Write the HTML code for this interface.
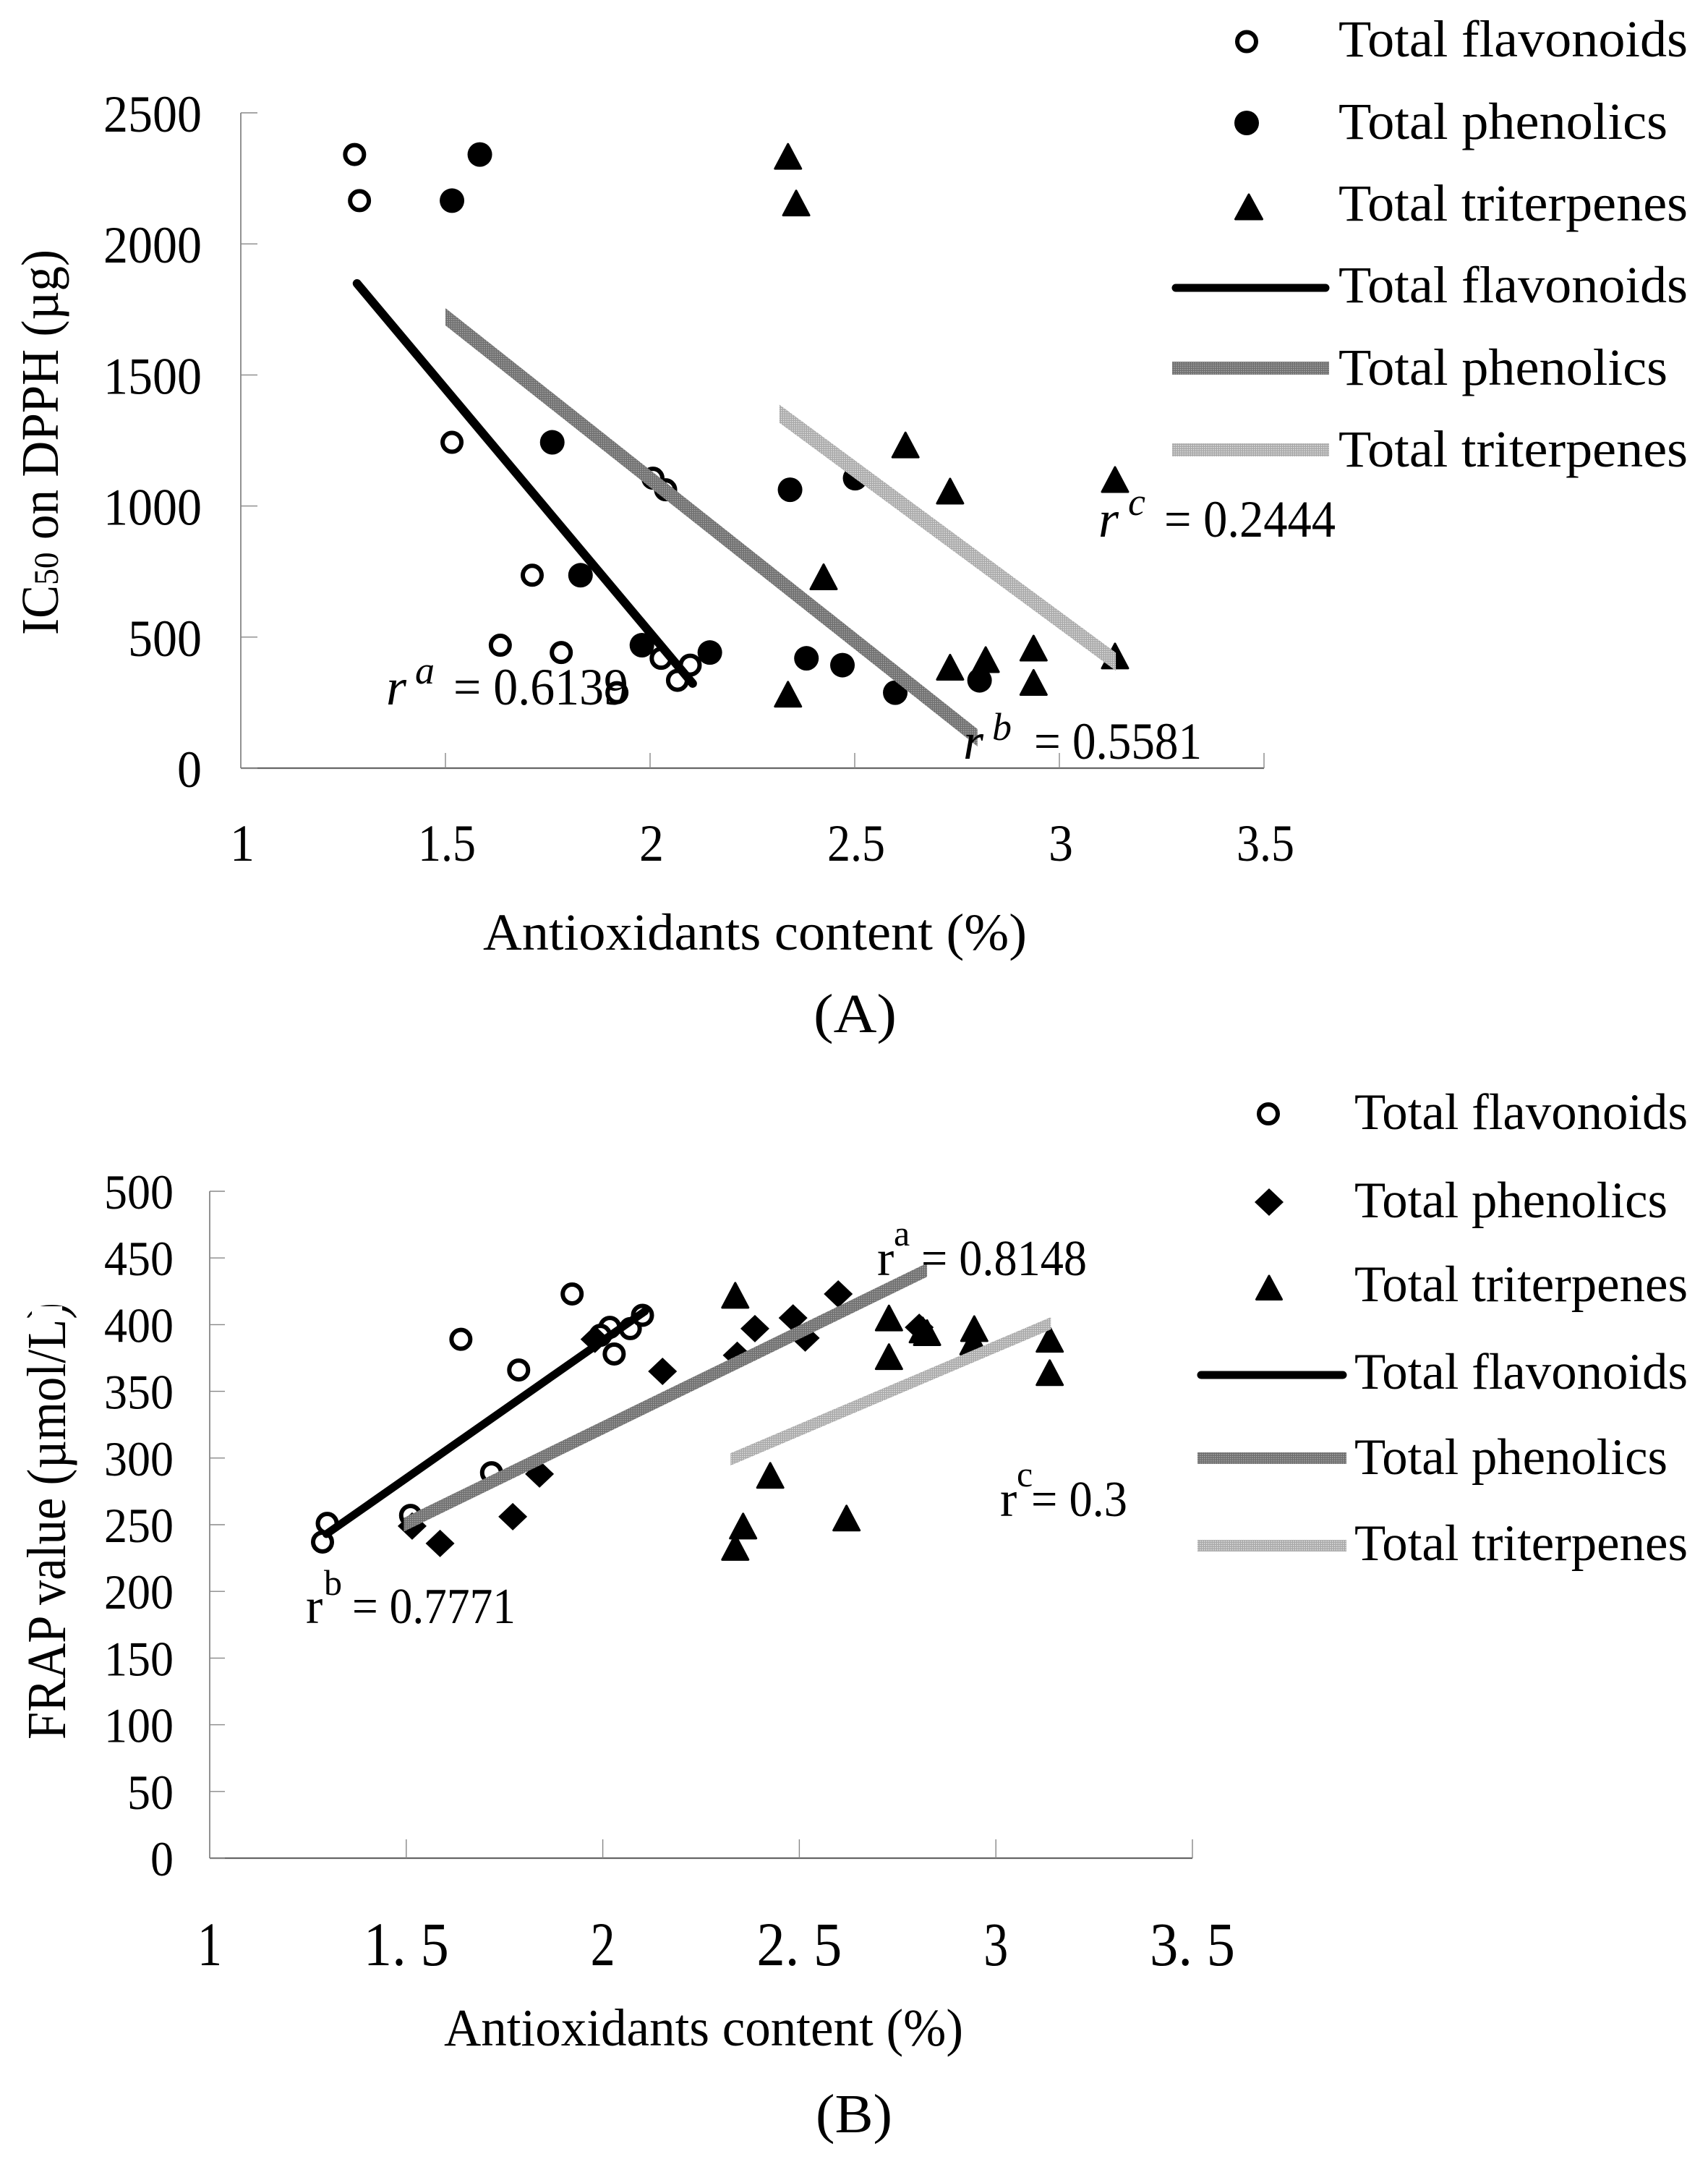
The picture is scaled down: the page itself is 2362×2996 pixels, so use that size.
<!DOCTYPE html>
<html lang="en">
<head>
<meta charset="utf-8">
<title>Antioxidant content correlations</title>
<style>
html,body{margin:0;padding:0;background:#fff;}
svg{display:block;}
text{font-family:"Liberation Serif",serif;fill:#000;}
</style>
</head>
<body>
<svg id="figure" xmlns="http://www.w3.org/2000/svg" width="2362" height="2996" viewBox="0 0 2362 2996">
<defs>
<pattern id="hatch-dark" patternUnits="userSpaceOnUse" width="3" height="3"><rect width="3" height="3" fill="#6f6f6f"/><rect width="1.5" height="1.5" fill="#a8a8a8"/></pattern>
<pattern id="hatch-light" patternUnits="userSpaceOnUse" width="3" height="3"><rect width="3" height="3" fill="#a9a9a9"/><rect width="1.5" height="1.5" fill="#e2e2e2"/></pattern>
</defs>
<rect width="2362" height="2996" fill="#fff"/>

<g id="panel-a">
<g id="a-axes"></g>
<g id="a-points"></g>
<g id="a-trends"></g>
<text transform="translate(80 878) rotate(-90)" font-size="73" textLength="533" lengthAdjust="spacingAndGlyphs">IC<tspan font-size="48">50</tspan> on DPPH (µg)</text>
<text x="668" y="1313" font-size="72" textLength="752" lengthAdjust="spacingAndGlyphs">Antioxidants content (%)</text>
<text x="1125" y="1427" font-size="76" textLength="115" lengthAdjust="spacingAndGlyphs">(A)</text>
<g>
<text x="534" y="974" font-size="72" font-style="italic">r</text>
<text x="574" y="945" font-size="54" font-style="italic">a</text>
<text x="627" y="974" font-size="72" textLength="242" lengthAdjust="spacingAndGlyphs">= 0.6139</text>
</g>
<g>
<text x="1332" y="1049" font-size="72" font-style="italic">r</text>
<text x="1372" y="1023" font-size="54" font-style="italic">b</text>
<text x="1430" y="1049" font-size="72" textLength="232" lengthAdjust="spacingAndGlyphs">= 0.5581</text>
</g>
<g>
<text x="1519" y="742" font-size="72" font-style="italic">r</text>
<text x="1560" y="712" font-size="54" font-style="italic">c</text>
<text x="1610" y="742" font-size="72" textLength="237" lengthAdjust="spacingAndGlyphs">= 0.2444</text>
</g>
<g>
<circle cx="1724" cy="57.5" r="13" fill="#fff" stroke="#000" stroke-width="6"/>
<circle cx="1724" cy="170" r="17" fill="#000"/>
<path d="M1727 269 L1708.500 303 L1745.500 303 Z" fill="#000" stroke="#000" stroke-width="3" stroke-linejoin="round"/>
<line x1="1626" y1="398" x2="1833" y2="398" stroke="#000" stroke-width="11" stroke-linecap="round"/>
<line x1="1621" y1="509" x2="1838" y2="509" stroke="url(#hatch-dark)" stroke-width="18"/>
<line x1="1621" y1="622" x2="1838" y2="622" stroke="url(#hatch-light)" stroke-width="18"/>
<text x="1851" y="78" font-size="72" textLength="483" lengthAdjust="spacingAndGlyphs">Total flavonoids</text>
<text x="1851" y="192" font-size="72" textLength="455" lengthAdjust="spacingAndGlyphs">Total phenolics</text>
<text x="1851" y="305" font-size="72" textLength="483" lengthAdjust="spacingAndGlyphs">Total triterpenes</text>
<text x="1851" y="418" font-size="72" textLength="483" lengthAdjust="spacingAndGlyphs">Total flavonoids</text>
<text x="1851" y="532" font-size="72" textLength="455" lengthAdjust="spacingAndGlyphs">Total phenolics</text>
<text x="1851" y="645" font-size="72" textLength="483" lengthAdjust="spacingAndGlyphs">Total triterpenes</text>
</g>
</g>

<g id="panel-b">
<g id="b-axes"></g>
<g id="b-points"></g>
<g id="b-trends"></g>
<text transform="translate(90 2405) rotate(-90)" font-size="76" textLength="604" lengthAdjust="spacingAndGlyphs">FRAP value (µmol/L)</text>
<rect x="44" y="1806" width="42" height="12" fill="#fff"/>
<text x="614" y="2828" font-size="73" textLength="718" lengthAdjust="spacingAndGlyphs">Antioxidants content (%)</text>
<text x="1128" y="2948" font-size="76" textLength="106" lengthAdjust="spacingAndGlyphs">(B)</text>
<g>
<text x="423" y="2244" font-size="70">r</text>
<text x="448" y="2205" font-size="50">b</text>
<text x="487" y="2244" font-size="70" textLength="226" lengthAdjust="spacingAndGlyphs">= 0.7771</text>
</g>
<g>
<text x="1213" y="1763" font-size="70">r</text>
<text x="1236" y="1722" font-size="50">a</text>
<text x="1274" y="1763" font-size="70" textLength="229" lengthAdjust="spacingAndGlyphs">= 0.8148</text>
</g>
<g>
<text x="1383" y="2096" font-size="70">r</text>
<text x="1406" y="2055" font-size="50">c</text>
<text x="1426" y="2096" font-size="70" textLength="133" lengthAdjust="spacingAndGlyphs">= 0.3</text>
</g>
<g>
<circle cx="1754" cy="1540" r="13" fill="#fff" stroke="#000" stroke-width="6"/>
<path d="M1755 1643 L1775 1662 L1755 1681 L1735 1662 Z" fill="#000"/>
<path d="M1755 1764 L1737.500 1796.500 L1772.500 1796.500 Z" fill="#000" stroke="#000" stroke-width="3" stroke-linejoin="round"/>
<line x1="1661" y1="1901" x2="1857" y2="1901" stroke="#000" stroke-width="11" stroke-linecap="round"/>
<line x1="1656" y1="2016" x2="1862" y2="2016" stroke="url(#hatch-dark)" stroke-width="16"/>
<line x1="1656" y1="2137" x2="1862" y2="2137" stroke="url(#hatch-light)" stroke-width="16"/>
<text x="1873" y="1561" font-size="71" textLength="461" lengthAdjust="spacingAndGlyphs">Total flavonoids</text>
<text x="1873" y="1683" font-size="71" textLength="433" lengthAdjust="spacingAndGlyphs">Total phenolics</text>
<text x="1873" y="1799" font-size="71" textLength="461" lengthAdjust="spacingAndGlyphs">Total triterpenes</text>
<text x="1873" y="1920" font-size="71" textLength="461" lengthAdjust="spacingAndGlyphs">Total flavonoids</text>
<text x="1873" y="2038" font-size="71" textLength="433" lengthAdjust="spacingAndGlyphs">Total phenolics</text>
<text x="1873" y="2157" font-size="71" textLength="461" lengthAdjust="spacingAndGlyphs">Total triterpenes</text>
</g>
</g>
</svg>

<script>
// Panel A: IC50 on DPPH
const aXTicks = [1, 1.5, 2, 2.5, 3, 3.5];
const aXTickLabels = ['1', '1.5', '2', '2.5', '3', '3.5'];
const aYTicks = [0, 500, 1000, 1500, 2000, 2500];
const aYTickLabels = ['0', '500', '1000', '1500', '2000', '2500'];
const aFlavonoidsX = [1.278, 1.290, 1.516, 1.712, 1.634, 1.783, 2.007, 2.038, 2.027, 2.098, 2.067, 1.919];
const aFlavonoidsY = [2341, 2165, 1243, 736, 469, 441, 1106, 1062, 419, 393, 335, 288];
const aPhenolicsX = [1.584, 1.516, 1.761, 1.830, 1.980, 2.146, 2.501, 2.342, 2.382, 2.470, 2.805, 2.599];
const aPhenolicsY = [2341, 2165, 1243, 736, 469, 441, 1106, 1062, 419, 393, 335, 288];
const aTriterpenesX = [2.337, 2.357, 2.624, 2.733, 3.136, 2.424, 2.937, 2.820, 2.733, 3.136, 2.937, 2.337];
const aTriterpenesY = [2334, 2156, 1233, 1057, 1101, 730, 458, 414, 385, 428, 327, 282];
const aTrendFlavonoidsX = [1.284, 2.104];
const aTrendFlavonoidsY = [1849, 323];
const aTrendPhenolicsX = [1.5, 2.80];
const aTrendPhenolicsY = [1722, 116];
const aTrendTriterpenesX = [2.316, 3.138];
const aTrendTriterpenesY = [1352, 406];

// Panel B: FRAP value
const bXTicks = [1, 1.5, 2, 2.5, 3, 3.5];
const bXTickLabels = ['1', '1. 5', '2', '2. 5', '3', '3. 5'];
const bYTicks = [0, 50, 100, 150, 200, 250, 300, 350, 400, 450, 500];
const bYTickLabels = ['0', '50', '100', '150', '200', '250', '300', '350', '400', '450', '500'];
const bFlavonoidsX = [1.299, 1.287, 1.511, 1.717, 1.639, 1.786, 1.922, 2.018, 2.029, 2.070, 2.101, 1.994];
const bFlavonoidsY = [251, 237, 257, 289, 389, 366, 423, 398, 378, 397, 407, 392];
const bPhenolicsX = [1.515, 1.586, 1.771, 1.839, 1.980, 2.152, 2.342, 2.387, 2.484, 2.515, 2.599, 2.805];
const bPhenolicsY = [249, 236, 256, 288, 389, 365, 377, 397, 405, 390, 423, 398];
const bTriterpenesX = [2.337, 2.337, 2.357, 2.426, 2.620, 2.728, 2.728, 2.814, 2.825, 2.945, 2.943, 3.137, 3.137];
const bTriterpenesY = [422, 233, 249, 287, 255, 405, 376, 396, 394, 397, 387, 389, 364];
const bTrendFlavonoidsX = [1.297, 2.107];
const bTrendFlavonoidsY = [243, 410];
const bTrendPhenolicsX = [1.494, 2.825];
const bTrendPhenolicsY = [250, 441];
const bTrendTriterpenesX = [2.325, 3.140];
const bTrendTriterpenesY = [299, 401];

const SVGNS = 'http://www.w3.org/2000/svg';

function axAX(v) { return 333 + (v - 1) * 566; }
function axAY(v) { return 1062 - v * 0.3624; }
function axBX(v) { return 290 + (v - 1) * 543.6; }
function axBY(v) { return 2569 - v * 1.844; }

function make(tag, parent, attrs) {
  const el = document.createElementNS(SVGNS, tag);
  for (const k in attrs) el.setAttribute(k, attrs[k]);
  parent.appendChild(el);
  return el;
}

function drawAxes(group, fx, fy, xTicks, xLabels, yTicks, yLabels, o) {
  const x0 = fx(xTicks[0]), x1 = fx(xTicks[xTicks.length - 1]);
  const y0 = fy(yTicks[0]), y1 = fy(yTicks[yTicks.length - 1]);
  const yAxis = make('line', group, {x1: x0, y1: y0, x2: x0, y2: y1, stroke: '#777', 'stroke-width': 1.6});
  
  
  const xAxis = make('line', group, {x1: x0, y1: y0, x2: x1, y2: y0, stroke: '#666', 'stroke-width': 2.2});
  
  
  xTicks.forEach(function (t, i) {
    const px = fx(t);
    if (i > 0) {
      const tick = make('line', group, {x1: px, y1: y0, x2: px, y2: y0 - o.xTickLen, stroke: '#888', 'stroke-width': 1.4});
      
      
    }
    const label = make('text', group, {
      x: px + o.xLabelShift, y: o.xLabelBaseline, 'font-size': o.xLabelSize, 'text-anchor': 'middle',
      textLength: o.xLabelWidth(xLabels[i]), lengthAdjust: 'spacingAndGlyphs'
    });
    
    
    label.textContent = xLabels[i];
  });
  yTicks.forEach(function (t, i) {
    const py = fy(t);
    const tick = make('line', group, {x1: x0, y1: py, x2: x0 + o.yTickLen, y2: py, stroke: '#888', 'stroke-width': 1.4});
    
    
    const label = make('text', group, {
      x: o.yLabelRight, y: py + o.yLabelOffset, 'font-size': o.yLabelSize, 'text-anchor': 'end',
      textLength: yLabels[i].length * o.yDigitWidth, lengthAdjust: 'spacingAndGlyphs'
    });
    
    
    label.textContent = yLabels[i];
  });
}

function drawOpenCircles(group, xs, ys, fx, fy) {
  xs.forEach(function (x, i) {
    const el = make('circle', group, {cx: fx(x), cy: fy(ys[i]), r: 13, fill: '#fff', stroke: '#000', 'stroke-width': 6});
    
    
  });
}
function drawFilledCircles(group, xs, ys, fx, fy) {
  xs.forEach(function (x, i) {
    const el = make('circle', group, {cx: fx(x), cy: fy(ys[i]), r: 17, fill: '#000'});
    
    
  });
}
function drawDiamonds(group, xs, ys, fx, fy) {
  xs.forEach(function (x, i) {
    const cx = fx(x), cy = fy(ys[i]);
    const d = 'M' + cx + ' ' + (cy - 19) + ' L' + (cx + 20) + ' ' + cy + ' L' + cx + ' ' + (cy + 19) + ' L' + (cx - 20) + ' ' + cy + ' Z';
    const el = make('path', group, {d: d, fill: '#000'});
    
    
  });
}
function drawTriangles(group, xs, ys, fx, fy) {
  xs.forEach(function (x, i) {
    const cx = fx(x), cy = fy(ys[i]);
    const d = 'M' + cx + ' ' + (cy - 17) + ' L' + (cx + 18) + ' ' + (cy + 17) + ' L' + (cx - 18) + ' ' + (cy + 17) + ' Z';
    const el = make('path', group, {d: d, fill: '#000', stroke: '#000', 'stroke-width': 3, 'stroke-linejoin': 'round'});
    
    
  });
}
function drawTrend(group, xs, ys, fx, fy, stroke, width) {
  const el = make('line', group, {x1: fx(xs[0]), y1: fy(ys[0]), x2: fx(xs[1]), y2: fy(ys[1]), stroke: stroke, 'stroke-width': width, 'stroke-linecap': 'round'});
  
  
}
function drawBand(group, xs, ys, fx, fy, fill, thickness) {
  const x1 = fx(xs[0]), y1 = fy(ys[0]), x2 = fx(xs[1]), y2 = fy(ys[1]), h = thickness / 2;
  const d = 'M' + x1 + ' ' + (y1 - h) + ' L' + x2 + ' ' + (y2 - h) + ' L' + x2 + ' ' + (y2 + h) + ' L' + x1 + ' ' + (y1 + h) + ' Z';
  const el = make('path', group, {d: d, fill: fill});
  
  
}

drawAxes(document.getElementById('a-axes'), axAX, axAY, aXTicks, aXTickLabels, aYTicks, aYTickLabels, {
  xTickLen: 21, yTickLen: 23, xLabelBaseline: 1190, xLabelSize: 72, xLabelShift: 2,
  xLabelWidth: function (s) { return s.length === 1 ? 34 : 80; },
  yLabelRight: 279, yLabelOffset: 26, yLabelSize: 72, yDigitWidth: 34
});
drawAxes(document.getElementById('b-axes'), axBX, axBY, bXTicks, bXTickLabels, bYTicks, bYTickLabels, {
  xTickLen: 26, yTickLen: 21, xLabelBaseline: 2717, xLabelSize: 86, xLabelShift: 0,
  xLabelWidth: function (s) { return s.length === 1 ? 34 : 118; },
  yLabelRight: 240, yLabelOffset: 24, yLabelSize: 68, yDigitWidth: 32
});

const aPts = document.getElementById('a-points');
drawOpenCircles(aPts, aFlavonoidsX, aFlavonoidsY, axAX, axAY);
drawFilledCircles(aPts, aPhenolicsX, aPhenolicsY, axAX, axAY);
drawTriangles(aPts, aTriterpenesX, aTriterpenesY, axAX, axAY);
const aTr = document.getElementById('a-trends');
drawTrend(aTr, aTrendFlavonoidsX, aTrendFlavonoidsY, axAX, axAY, '#000', 12);
drawBand(aTr, aTrendPhenolicsX, aTrendPhenolicsY, axAX, axAY, 'url(#hatch-dark)', 24);
drawBand(aTr, aTrendTriterpenesX, aTrendTriterpenesY, axAX, axAY, 'url(#hatch-light)', 25);

const bPts = document.getElementById('b-points');
drawOpenCircles(bPts, bFlavonoidsX, bFlavonoidsY, axBX, axBY);
drawDiamonds(bPts, bPhenolicsX, bPhenolicsY, axBX, axBY);
drawTriangles(bPts, bTriterpenesX, bTriterpenesY, axBX, axBY);
const bTr = document.getElementById('b-trends');
drawTrend(bTr, bTrendFlavonoidsX, bTrendFlavonoidsY, axBX, axBY, '#000', 11);
drawBand(bTr, bTrendPhenolicsX, bTrendPhenolicsY, axBX, axBY, 'url(#hatch-dark)', 19);
drawBand(bTr, bTrendTriterpenesX, bTrendTriterpenesY, axBX, axBY, 'url(#hatch-light)', 17);
</script>
</body>
</html>
